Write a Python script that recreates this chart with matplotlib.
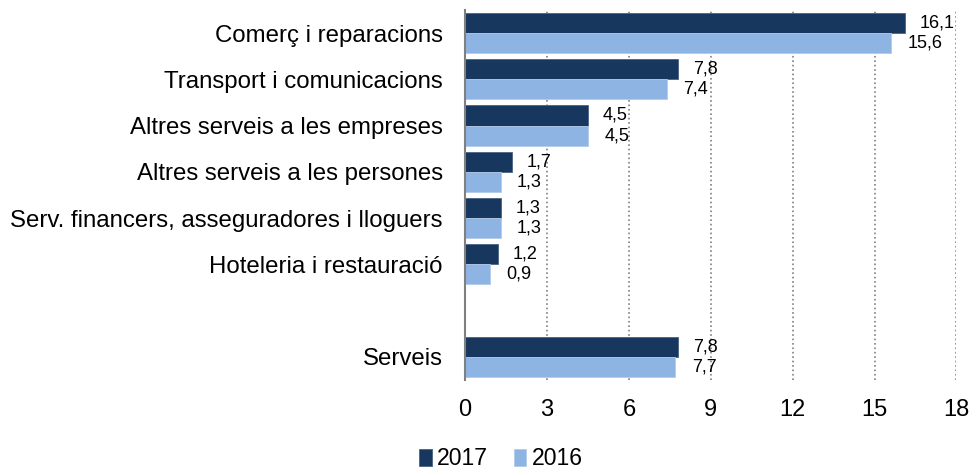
import matplotlib.pyplot as plt
import numpy as np

plt.rcParams['font.family'] = ['Liberation Sans', 'DejaVu Sans']

categories = ['Comerç i reparacions', 'Transport i comunicacions',
              'Altres serveis a les empreses', 'Altres serveis a les persones',
              'Serv. financers, asseguradores i lloguers', 'Hoteleria i restauració',
              'Serveis']
v2017 = [16.1, 7.8, 4.5, 1.7, 1.3, 1.2, 7.8]
v2016 = [15.6, 7.4, 4.5, 1.3, 1.3, 0.9, 7.7]

dark = '#17375E'
light = '#8EB4E3'

# hueco entre el detall i el total
ypos = np.array([0, 1, 2, 3, 4, 5, 7])
h = 0.435

fig = plt.figure(figsize=(9.71, 4.72), dpi=100)
ax = fig.add_axes([0.479, 0.195, 0.506, 0.784])

ax.barh(ypos - h / 2, v2017, height=h, color=dark, edgecolor='#4a6486', linewidth=0.6, label='2017')
ax.barh(ypos + h / 2, v2016, height=h, color=light, edgecolor='#b3cbea', linewidth=0.6, label='2016')

for y, a, b in zip(ypos, v2017, v2016):
    ax.text(a + 0.55, y - h / 2, f'{a:.1f}'.replace('.', ','), va='center', ha='left', fontsize=13)
    ax.text(b + 0.6, y + h / 2, f'{b:.1f}'.replace('.', ','), va='center', ha='left', fontsize=13)

ax.set_xlim(0, 18)
ax.set_xticks(range(0, 19, 3))
ax.set_ylim(7.5, -0.5)
ax.set_yticks(ypos)
ax.set_yticklabels(categories, fontsize=17.3)
ax.tick_params(axis='x', labelsize=17, length=0, pad=14)
ax.tick_params(axis='y', length=0, pad=16)

ax.grid(axis='x', linestyle=':', color='#808080', linewidth=1.2)
ax.set_axisbelow(True)
for s in ['top', 'right', 'bottom']:
    ax.spines[s].set_visible(False)
ax.spines['left'].set_color('#808080')
ax.spines['left'].set_linewidth(1.5)

fig.legend(loc='lower center', bbox_to_anchor=(0.516, -0.04), ncol=2, frameon=False,
           fontsize=16.6, handlelength=0.55, handleheight=0.75, handletextpad=0.25, columnspacing=1.1)

fig.savefig('out.png', dpi=100)
